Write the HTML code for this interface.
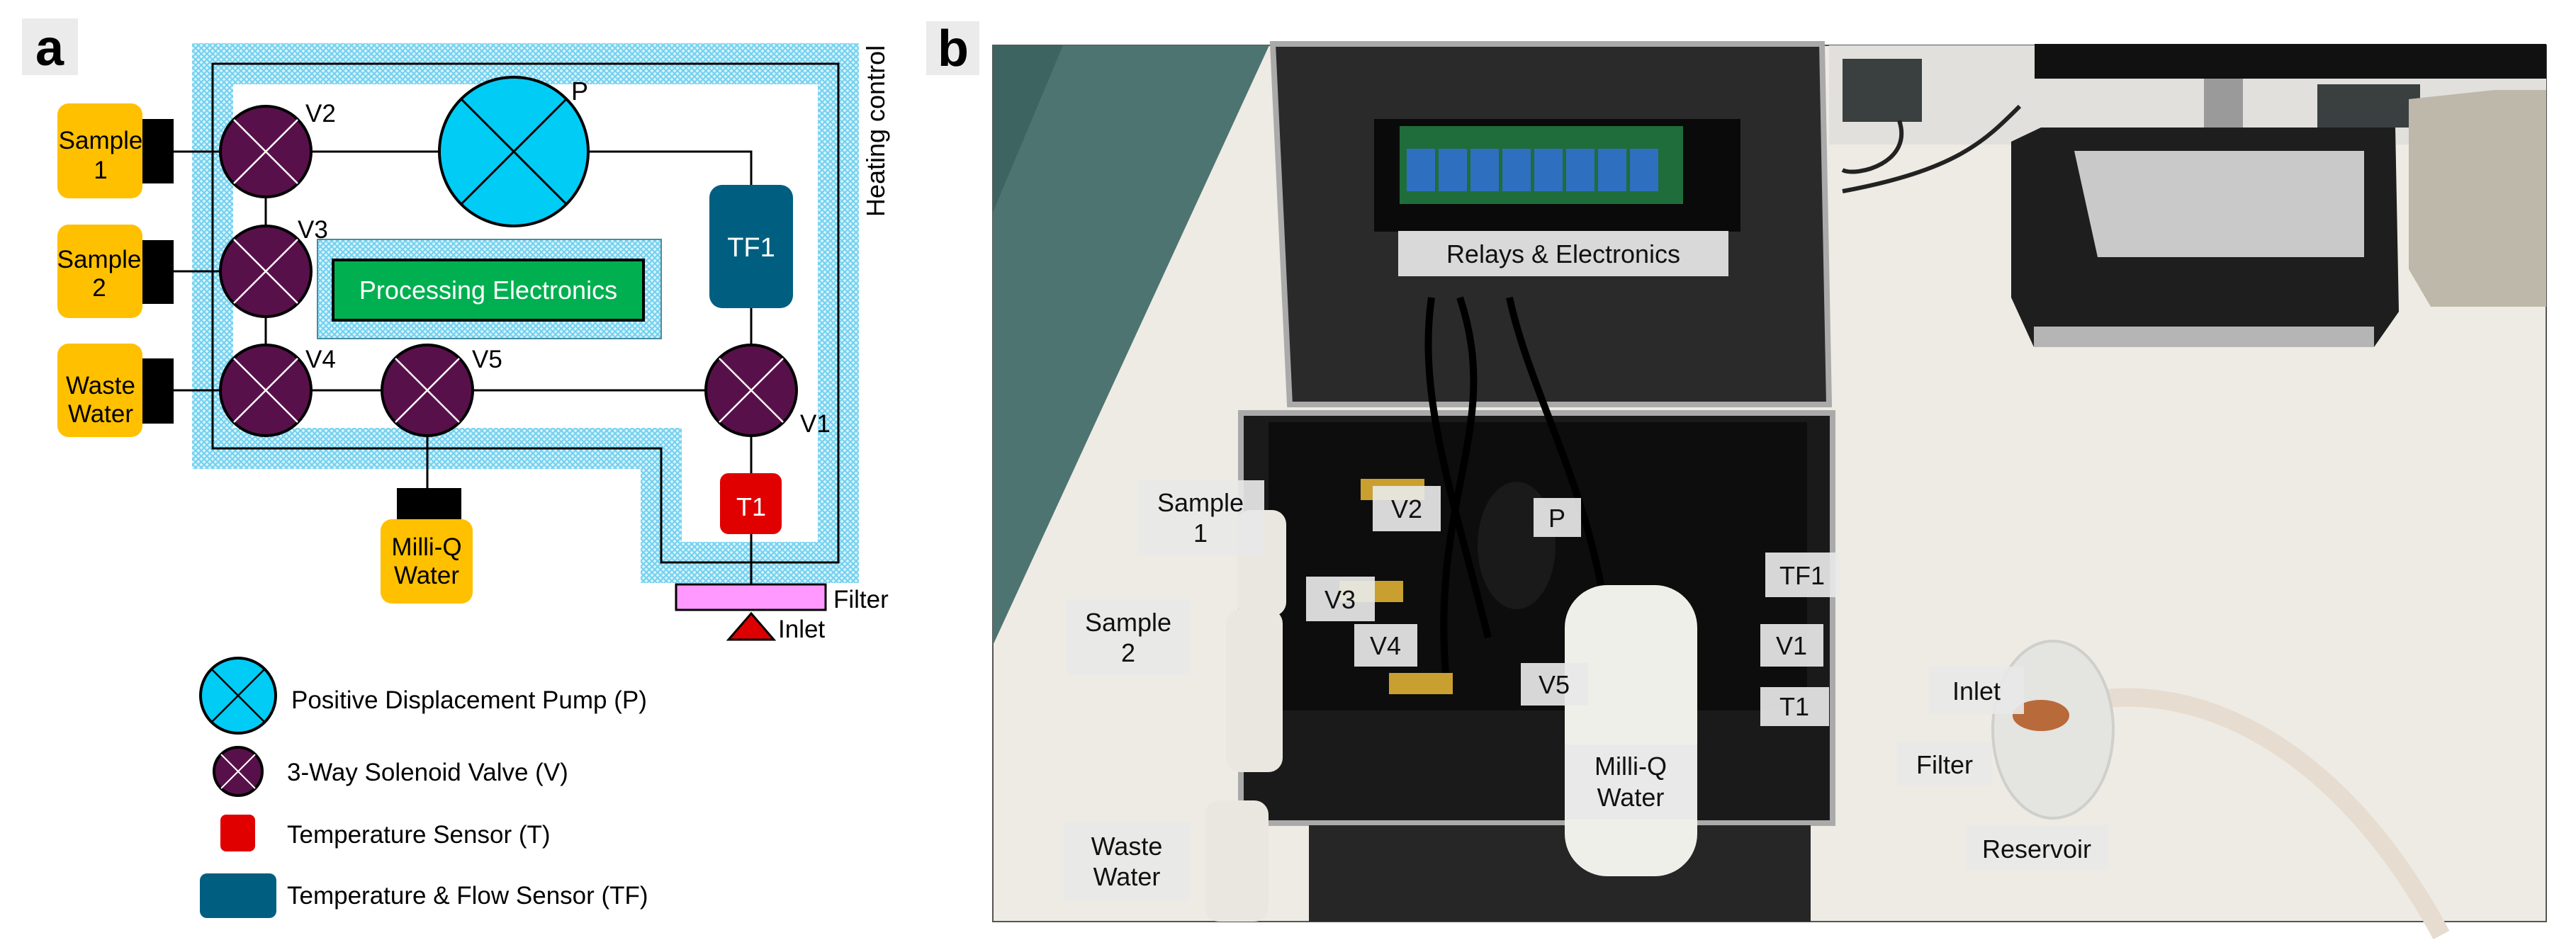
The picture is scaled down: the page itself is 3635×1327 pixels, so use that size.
<!DOCTYPE html>
<html><head><meta charset="utf-8"><style>
html,body{margin:0;padding:0;background:#fff}
svg{display:block}
text{font-family:"Liberation Sans",Arial,sans-serif}
</style></head><body>
<svg width="3635" height="1327" viewBox="0 0 3635 1327" xmlns="http://www.w3.org/2000/svg">
<defs>
<pattern id="hatch" width="8" height="8" patternUnits="userSpaceOnUse">
<rect width="8" height="8" fill="#d8f3fb"/>
<path d="M0,0L8,8M8,0L0,8" stroke="#6fd0ef" stroke-width="2"/>
</pattern>
</defs>
<rect width="3635" height="1327" fill="#fff"/>

<!-- Panel a -->
<rect x="31" y="26" width="79" height="80" fill="#ebebeb"/>
<text x="70" y="92" font-size="72" font-weight="bold" text-anchor="middle">a</text>

<path d="M300,90 H1183 V794 H933 V633 H300 Z" fill="none" stroke="url(#hatch)" stroke-width="58"/>
<path d="M300,90 H1183 V794 H933 V633 H300 Z" fill="none" stroke="#000" stroke-width="3"/>
<text transform="translate(1248,185) rotate(-90)" font-size="36" text-anchor="middle">Heating control</text>

<rect x="448" y="338" width="485" height="140" fill="url(#hatch)" stroke="#4a8aa0" stroke-width="2"/>
<rect x="470" y="367" width="438" height="85" fill="#00b050" stroke="#000" stroke-width="4"/>
<text x="689" y="422" font-size="36" fill="#fff" text-anchor="middle">Processing Electronics</text>

<!-- lines -->
<g stroke="#000" stroke-width="3" fill="none">
<path d="M245,214H620M831,214H1060V261M1060,435V487M1060,615V668M1060,754V825"/>
<path d="M375,280V319M375,447V487M245,383H312M245,551H996M603,615V689"/>
</g>

<!-- samples -->
<g fill="#ffc000">
<rect x="81" y="146" width="120" height="134" rx="16"/>
<rect x="81" y="317" width="120" height="132" rx="16"/>
<rect x="81" y="485" width="120" height="132" rx="16"/>
<rect x="537" y="733" width="130" height="119" rx="16"/>
</g>
<g fill="#000">
<rect x="201" y="168" width="44" height="91"/>
<rect x="201" y="339" width="44" height="90"/>
<rect x="201" y="506" width="44" height="92"/>
<rect x="560" y="689" width="91" height="44"/>
</g>
<g font-size="35" text-anchor="middle">
<text x="142" y="210">Sample</text><text x="142" y="252">1</text>
<text x="140" y="378">Sample</text><text x="140" y="418">2</text>
<text x="142" y="556">Waste</text><text x="142" y="596">Water</text>
<text x="602" y="784">Milli-Q</text><text x="602" y="824">Water</text>
</g>

<!-- pump -->
<circle cx="725" cy="214" r="105" fill="#00ccf5" stroke="#000" stroke-width="4"/>
<path d="M651,140L799,288M799,140L651,288" stroke="#000" stroke-width="3"/>
<text x="806" y="141" font-size="36">P</text>

<!-- valves -->
<g id="valves">
<g transform="translate(375,214)"><circle r="64" fill="#58104a" stroke="#000" stroke-width="4"/><path d="M-45,-45L45,45M45,-45L-45,45" stroke="#fff" stroke-width="2.5"/></g>
<g transform="translate(375,383)"><circle r="64" fill="#58104a" stroke="#000" stroke-width="4"/><path d="M-45,-45L45,45M45,-45L-45,45" stroke="#fff" stroke-width="2.5"/></g>
<g transform="translate(375,551)"><circle r="64" fill="#58104a" stroke="#000" stroke-width="4"/><path d="M-45,-45L45,45M45,-45L-45,45" stroke="#fff" stroke-width="2.5"/></g>
<g transform="translate(603,551)"><circle r="64" fill="#58104a" stroke="#000" stroke-width="4"/><path d="M-45,-45L45,45M45,-45L-45,45" stroke="#fff" stroke-width="2.5"/></g>
<g transform="translate(1060,551)"><circle r="64" fill="#58104a" stroke="#000" stroke-width="4"/><path d="M-45,-45L45,45M45,-45L-45,45" stroke="#fff" stroke-width="2.5"/></g>
</g>
<g font-size="35">
<text x="431" y="172">V2</text>
<text x="420" y="336">V3</text>
<text x="431" y="519">V4</text>
<text x="666" y="519">V5</text>
<text x="1129" y="610">V1</text>
</g>

<rect x="1001" y="261" width="118" height="174" rx="18" fill="#005f80"/>
<text x="1060" y="362" font-size="38" fill="#fff" text-anchor="middle">TF1</text>
<rect x="1016" y="668" width="87" height="86" rx="12" fill="#e00000"/>
<text x="1060" y="728" font-size="36" fill="#fff" text-anchor="middle">T1</text>

<rect x="954" y="825" width="211" height="36" fill="#ff99ff" stroke="#000" stroke-width="3"/>
<text x="1176" y="858" font-size="35">Filter</text>
<path d="M1060,866L1092,903H1028Z" fill="#dd0000" stroke="#000" stroke-width="3"/>
<text x="1098" y="900" font-size="35">Inlet</text>

<!-- legend -->
<circle cx="336" cy="982" r="53" fill="#00ccf5" stroke="#000" stroke-width="4"/>
<path d="M299,945L373,1019M373,945L299,1019" stroke="#000" stroke-width="2.5"/>
<text x="411" y="1000" font-size="35">Positive Displacement Pump (P)</text>
<circle cx="336" cy="1089" r="34" fill="#58104a" stroke="#000" stroke-width="4"/>
<path d="M312,1065L360,1113M360,1065L312,1113" stroke="#fff" stroke-width="2"/>
<text x="405" y="1102" font-size="35">3-Way Solenoid Valve (V)</text>
<rect x="311" y="1150" width="49" height="52" rx="8" fill="#e00000"/>
<text x="405" y="1190" font-size="35">Temperature Sensor (T)</text>
<rect x="282" y="1233" width="108" height="63" rx="10" fill="#005f80"/>
<text x="405" y="1276" font-size="35">Temperature &amp; Flow Sensor (TF)</text>

<!-- Panel b -->
<rect x="1307" y="30" width="75" height="76" fill="#ebebeb"/>
<text x="1345" y="93" font-size="72" font-weight="bold" text-anchor="middle">b</text>

<rect x="1401" y="64" width="2192" height="1237" fill="#eeebe4" stroke="#555" stroke-width="2"/>
<path d="M1401,64H1791L1401,911Z" fill="#4d7471"/>
<path d="M1401,64H1500L1401,300Z" fill="#3e6462"/>
<!-- wall / monitor area -->
<rect x="2581" y="64" width="1012" height="140" fill="#e2e0dc"/>
<rect x="2600" y="83" width="112" height="89" fill="#3a3f40"/>
<rect x="3270" y="119" width="145" height="61" fill="#3a3f40"/>
<rect x="2871" y="62" width="722" height="49" fill="#111"/>
<rect x="3110" y="111" width="55" height="120" fill="#9a9a9a"/>
<path d="M2680,170 C2700,230 2620,250 2600,240 M2850,150 C2800,200 2760,240 2600,270" stroke="#222" stroke-width="6" fill="none"/>
<path d="M2838,200 L2880,180 H3380 L3385,440 L3350,490 H2870 L2838,420Z" fill="#1e1e1e"/>
<path d="M2927,213H3336L3336,363H2960Z" fill="#c9c9c9"/>
<rect x="2870" y="461" width="480" height="29" fill="#b5b5b5"/>
<path d="M3399,140 L3520,127 H3593 V433 H3430 L3399,380Z" fill="#bdb8aa"/>
<!-- reservoir and tube -->
<path d="M2943,990 C3100,960 3300,1050 3445,1320" stroke="#e6dccf" stroke-width="26" fill="none"/>
<ellipse cx="2897" cy="1030" rx="85" ry="125" fill="#e4e4e0" stroke="#cfcfcb" stroke-width="4"/>
<ellipse cx="2880" cy="1010" rx="40" ry="22" fill="#b86a3a"/>

<!-- case -->
<path d="M1796,62 H2571 L2581,571 H1820Z" fill="#2a2a2a" stroke="#aaa" stroke-width="8"/>
<rect x="1939" y="168" width="517" height="159" fill="#0a0a0a"/>
<rect x="1975" y="178" width="400" height="110" fill="#1f6d3a"/>
<g fill="#2f6fc0">
<rect x="1985" y="210" width="40" height="60"/><rect x="2030" y="210" width="40" height="60"/><rect x="2075" y="210" width="40" height="60"/><rect x="2120" y="210" width="40" height="60"/><rect x="2165" y="210" width="40" height="60"/><rect x="2210" y="210" width="40" height="60"/><rect x="2255" y="210" width="40" height="60"/><rect x="2300" y="210" width="40" height="60"/>
</g>
<path d="M1751,583 H2586 V1162 H1751Z" fill="#1a1a1a" stroke="#aaa" stroke-width="8"/>
<rect x="1790" y="596" width="760" height="407" fill="#0d0d0d"/>
<rect x="1847" y="1165" width="708" height="136" fill="#262626"/>
<path d="M2020,420 C2000,560 2050,700 2100,900 M2060,420 C2120,600 2020,700 2040,950 M2130,420 C2160,560 2250,700 2270,900" stroke="#000" stroke-width="10" fill="none"/>
<ellipse cx="2140" cy="770" rx="55" ry="90" fill="#1a1a1a"/>
<rect x="1920" y="676" width="90" height="30" fill="#c9a030"/>
<rect x="1890" y="820" width="90" height="30" fill="#c9a030"/>
<rect x="1960" y="950" width="90" height="30" fill="#c9a030"/>
<!-- bottles -->
<rect x="1745" y="720" width="70" height="150" rx="20" fill="#e9e7e0"/>
<rect x="1730" y="860" width="80" height="230" rx="20" fill="#e9e7e0"/>
<rect x="1700" y="1130" width="90" height="171" rx="20" fill="#e9e7e0"/>
<rect x="2208" y="826" width="187" height="411" rx="60" fill="#efefe9"/>

<!-- labels -->
<g fill="#e8e8e8" fill-opacity="0.92">
<rect x="1973" y="326" width="466" height="64"/>
<rect x="1605" y="678" width="179" height="106"/>
<rect x="1937" y="686" width="96" height="64"/>
<rect x="2164" y="703" width="67" height="55"/>
<rect x="1843" y="814" width="97" height="63"/>
<rect x="1505" y="847" width="175" height="106"/>
<rect x="1911" y="881" width="89" height="60"/>
<rect x="2146" y="936" width="95" height="60"/>
<rect x="2491" y="780" width="105" height="63"/>
<rect x="2484" y="881" width="89" height="60"/>
<rect x="2484" y="970" width="97" height="55"/>
<rect x="2208" y="1051" width="187" height="106"/>
<rect x="1501" y="1161" width="179" height="110"/>
<rect x="2722" y="941" width="134" height="67"/>
<rect x="2677" y="1047" width="134" height="63"/>
<rect x="2774" y="1165" width="201" height="64"/>
</g>
<g font-size="36" text-anchor="middle" fill="#111">
<text x="2206" y="371">Relays &amp; Electronics</text>
<text x="1694" y="722">Sample</text><text x="1694" y="765">1</text>
<text x="1985" y="731">V2</text>
<text x="2197" y="744">P</text>
<text x="1891" y="859">V3</text>
<text x="1592" y="891">Sample</text><text x="1592" y="934">2</text>
<text x="1955" y="924">V4</text>
<text x="2193" y="979">V5</text>
<text x="2543" y="825">TF1</text>
<text x="2528" y="924">V1</text>
<text x="2532" y="1010">T1</text>
<text x="2301" y="1094">Milli-Q</text><text x="2301" y="1138">Water</text>
<text x="1590" y="1207">Waste</text><text x="1590" y="1250">Water</text>
<text x="2789" y="988">Inlet</text>
<text x="2744" y="1092">Filter</text>
<text x="2874" y="1211">Reservoir</text>
</g>
</svg>
</body></html>
